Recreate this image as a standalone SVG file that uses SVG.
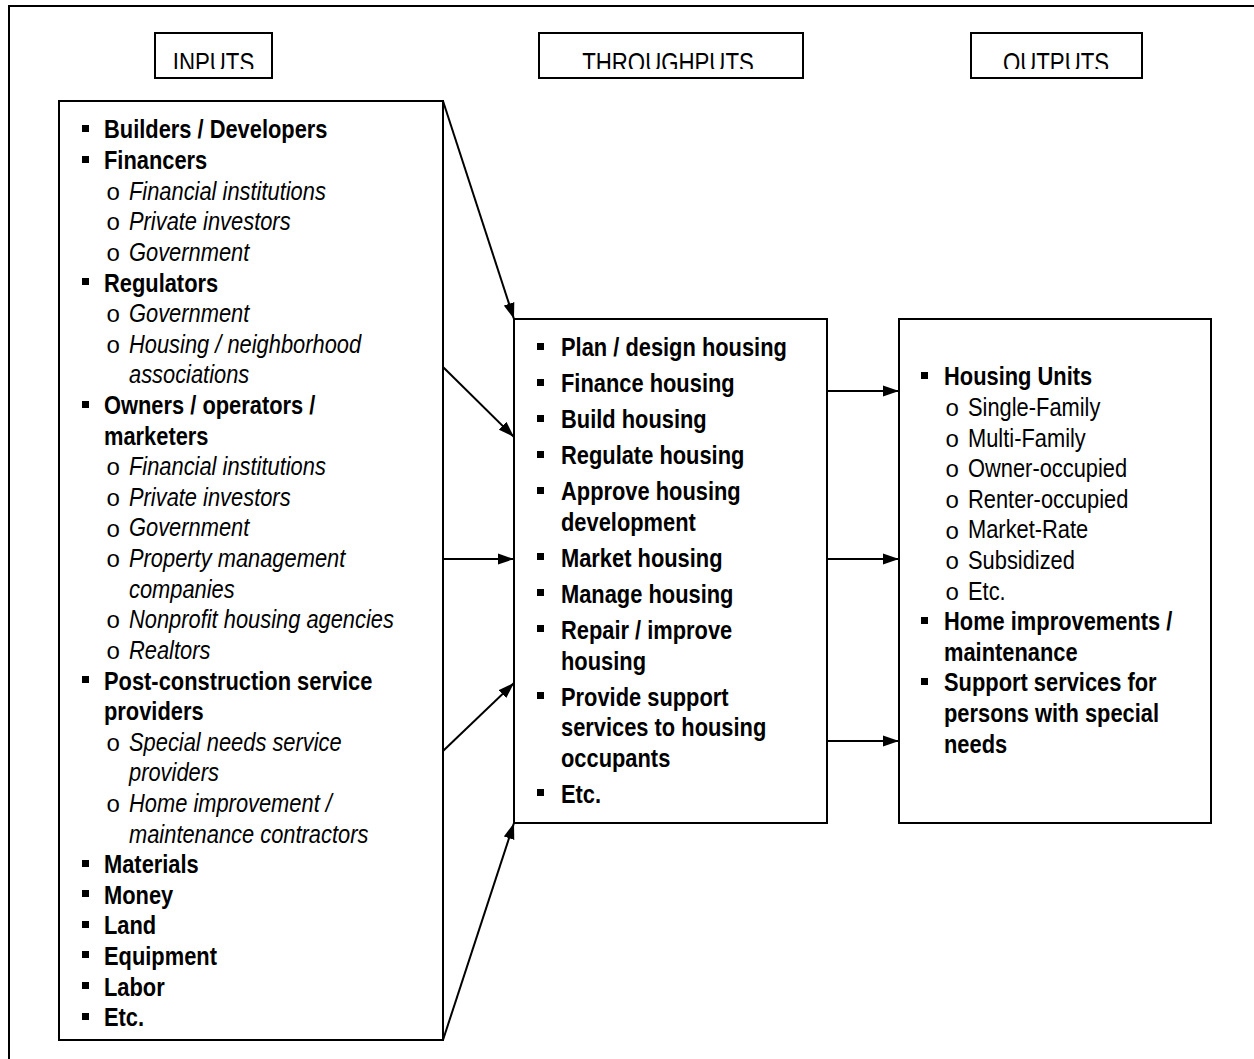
<svg xmlns="http://www.w3.org/2000/svg" width="1254" height="1059" viewBox="0 0 1254 1059">
<style>
  text { font-family: "Liberation Sans", Arial, sans-serif; font-size: 26.67px; fill: #000; }
  .b { font-weight: bold; }
  .i { font-style: italic; }
  .h { font-size: 28.5px; }
  .o { font-family: "Liberation Mono", "Courier New", monospace; font-size: 24px; }
  .box { fill: #fff; stroke: #000; stroke-width: 2; }
  .frame { fill: none; stroke: #000; stroke-width: 2; }
  .conn line { stroke: #000; stroke-width: 2; }
  .sq { fill: #000; }
</style>
<defs>
  <marker id="ah" markerUnits="userSpaceOnUse" markerWidth="18" markerHeight="12" refX="16" refY="6" orient="auto">
    <path d="M0,0.5 L16,6 L0,11.5 Z" fill="#000"/>
  </marker>
  <clipPath id="c1"><rect x="155" y="33" width="117" height="36"/></clipPath>
  <clipPath id="c2"><rect x="539" y="33" width="264" height="36"/></clipPath>
  <clipPath id="c3"><rect x="971" y="33" width="171" height="36"/></clipPath>
</defs>
<rect width="1254" height="1059" fill="#fff"/>
<path class="frame" d="M9,1070 L9,6 L1260,6"/>

<g id="hdr-inputs">
  <rect class="box" x="155" y="33" width="117" height="45"/>
  <g clip-path="url(#c1)"><text class="h" transform="scale(0.78,1)" x="273.72" y="72" text-anchor="middle">INPUTS</text></g>
</g>
<g id="hdr-throughputs">
  <rect class="box" x="539" y="33" width="264" height="45"/>
  <g clip-path="url(#c2)"><text class="h" transform="scale(0.78,1)" x="856.41" y="72" text-anchor="middle">THROUGHPUTS</text></g>
</g>
<g id="hdr-outputs">
  <rect class="box" x="971" y="33" width="171" height="45"/>
  <g clip-path="url(#c3)"><text class="h" transform="scale(0.78,1)" x="1353.85" y="72" text-anchor="middle">OUTPUTS</text></g>
</g>

<g id="inputs">
  <rect class="box" x="59" y="101" width="384" height="939"/>
  <rect class="sq" x="82" y="125" width="7" height="7"/>
  <rect class="sq" x="82" y="156" width="7" height="7"/>
  <rect class="sq" x="82" y="278" width="7" height="7"/>
  <rect class="sq" x="82" y="401" width="7" height="7"/>
  <rect class="sq" x="82" y="676" width="7" height="7"/>
  <rect class="sq" x="82" y="860" width="7" height="7"/>
  <rect class="sq" x="82" y="890" width="7" height="7"/>
  <rect class="sq" x="82" y="921" width="7" height="7"/>
  <rect class="sq" x="82" y="951" width="7" height="7"/>
  <rect class="sq" x="82" y="982" width="7" height="7"/>
  <rect class="sq" x="82" y="1013" width="7" height="7"/>
  <text class="o" x="106" y="199.7">o</text>
  <text class="o" x="106" y="230.4">o</text>
  <text class="o" x="106" y="261">o</text>
  <text class="o" x="106" y="322.2">o</text>
  <text class="o" x="106" y="352.8">o</text>
  <text class="o" x="106" y="475.3">o</text>
  <text class="o" x="106" y="505.9">o</text>
  <text class="o" x="106" y="536.5">o</text>
  <text class="o" x="106" y="567.1">o</text>
  <text class="o" x="106" y="628.4">o</text>
  <text class="o" x="106" y="659">o</text>
  <text class="o" x="106" y="750.8">o</text>
  <text class="o" x="106" y="812">o</text>
  <g transform="scale(0.82,1)">
    <text class="b" x="126.83" y="138.5">Builders / Developers</text>
    <text class="b" x="126.83" y="169.1">Financers</text>
    <text class="i" x="157.32" y="199.7">Financial institutions</text>
    <text class="i" x="157.32" y="230.4">Private investors</text>
    <text class="i" x="157.32" y="261">Government</text>
    <text class="b" x="126.83" y="291.6">Regulators</text>
    <text class="i" x="157.32" y="322.2">Government</text>
    <text class="i" x="157.32" y="352.8">Housing / neighborhood</text>
    <text class="i" x="157.32" y="383.4">associations</text>
    <text class="b" x="126.83" y="414.1">Owners / operators /</text>
    <text class="b" x="126.83" y="444.7">marketers</text>
    <text class="i" x="157.32" y="475.3">Financial institutions</text>
    <text class="i" x="157.32" y="505.9">Private investors</text>
    <text class="i" x="157.32" y="536.5">Government</text>
    <text class="i" x="157.32" y="567.1">Property management</text>
    <text class="i" x="157.32" y="597.7">companies</text>
    <text class="i" x="157.32" y="628.4">Nonprofit housing agencies</text>
    <text class="i" x="157.32" y="659">Realtors</text>
    <text class="b" x="126.83" y="689.6">Post-construction service</text>
    <text class="b" x="126.83" y="720.2">providers</text>
    <text class="i" x="157.32" y="750.8">Special needs service</text>
    <text class="i" x="157.32" y="781.4">providers</text>
    <text class="i" x="157.32" y="812">Home improvement /</text>
    <text class="i" x="157.32" y="842.6">maintenance contractors</text>
    <text class="b" x="126.83" y="873.3">Materials</text>
    <text class="b" x="126.83" y="903.9">Money</text>
    <text class="b" x="126.83" y="934.5">Land</text>
    <text class="b" x="126.83" y="965.1">Equipment</text>
    <text class="b" x="126.83" y="995.7">Labor</text>
    <text class="b" x="126.83" y="1026.3">Etc.</text>
  </g>
</g>

<g id="throughputs">
  <rect class="box" x="514" y="319" width="313" height="504"/>
  <rect class="sq" x="537" y="343" width="7" height="7"/>
  <rect class="sq" x="537" y="379" width="7" height="7"/>
  <rect class="sq" x="537" y="415" width="7" height="7"/>
  <rect class="sq" x="537" y="451" width="7" height="7"/>
  <rect class="sq" x="537" y="487" width="7" height="7"/>
  <rect class="sq" x="537" y="553" width="7" height="7"/>
  <rect class="sq" x="537" y="589" width="7" height="7"/>
  <rect class="sq" x="537" y="625" width="7" height="7"/>
  <rect class="sq" x="537" y="692" width="7" height="7"/>
  <rect class="sq" x="537" y="789" width="7" height="7"/>
  <g transform="scale(0.82,1)">
    <text class="b" x="684.15" y="356.5">Plan / design housing</text>
    <text class="b" x="684.15" y="392.5">Finance housing</text>
    <text class="b" x="684.15" y="428.5">Build housing</text>
    <text class="b" x="684.15" y="464.5">Regulate housing</text>
    <text class="b" x="684.15" y="500.5">Approve housing</text>
    <text class="b" x="684.15" y="531.1">development</text>
    <text class="b" x="684.15" y="567.1">Market housing</text>
    <text class="b" x="684.15" y="603.1">Manage housing</text>
    <text class="b" x="684.15" y="639.1">Repair / improve</text>
    <text class="b" x="684.15" y="669.7">housing</text>
    <text class="b" x="684.15" y="705.7">Provide support</text>
    <text class="b" x="684.15" y="736.3">services to housing</text>
    <text class="b" x="684.15" y="766.9">occupants</text>
    <text class="b" x="684.15" y="802.9">Etc.</text>
  </g>
</g>

<g id="outputs">
  <rect class="box" x="899" y="319" width="312" height="504"/>
  <rect class="sq" x="921" y="372" width="7" height="7"/>
  <rect class="sq" x="921" y="617" width="7" height="7"/>
  <rect class="sq" x="921" y="678" width="7" height="7"/>
  <text class="o" x="945" y="416.1">o</text>
  <text class="o" x="945" y="446.7">o</text>
  <text class="o" x="945" y="477.3">o</text>
  <text class="o" x="945" y="507.9">o</text>
  <text class="o" x="945" y="538.5">o</text>
  <text class="o" x="945" y="569.1">o</text>
  <text class="o" x="945" y="599.7">o</text>
  <g transform="scale(0.82,1)">
    <text class="b" x="1151.22" y="385.5">Housing Units</text>
    <text x="1180.49" y="416.1">Single-Family</text>
    <text x="1180.49" y="446.7">Multi-Family</text>
    <text x="1180.49" y="477.3">Owner-occupied</text>
    <text x="1180.49" y="507.9">Renter-occupied</text>
    <text x="1180.49" y="538.5">Market-Rate</text>
    <text x="1180.49" y="569.1">Subsidized</text>
    <text x="1180.49" y="599.7">Etc.</text>
    <text class="b" x="1151.22" y="630.3">Home improvements /</text>
    <text class="b" x="1151.22" y="660.9">maintenance</text>
    <text class="b" x="1151.22" y="691.5">Support services for</text>
    <text class="b" x="1151.22" y="722.1">persons with special</text>
    <text class="b" x="1151.22" y="752.7">needs</text>
  </g>
</g>

<g id="connectors" class="conn">
  <line x1="443" y1="101" x2="514" y2="319" marker-end="url(#ah)"/>
  <line x1="443" y1="367" x2="514" y2="437" marker-end="url(#ah)"/>
  <line x1="443" y1="559" x2="514" y2="559" marker-end="url(#ah)"/>
  <line x1="443" y1="751" x2="514" y2="683" marker-end="url(#ah)"/>
  <line x1="443" y1="1040" x2="514" y2="823" marker-end="url(#ah)"/>
  <line x1="827" y1="391" x2="899" y2="391" marker-end="url(#ah)"/>
  <line x1="827" y1="559" x2="899" y2="559" marker-end="url(#ah)"/>
  <line x1="827" y1="741" x2="899" y2="741" marker-end="url(#ah)"/>
</g>
</svg>
